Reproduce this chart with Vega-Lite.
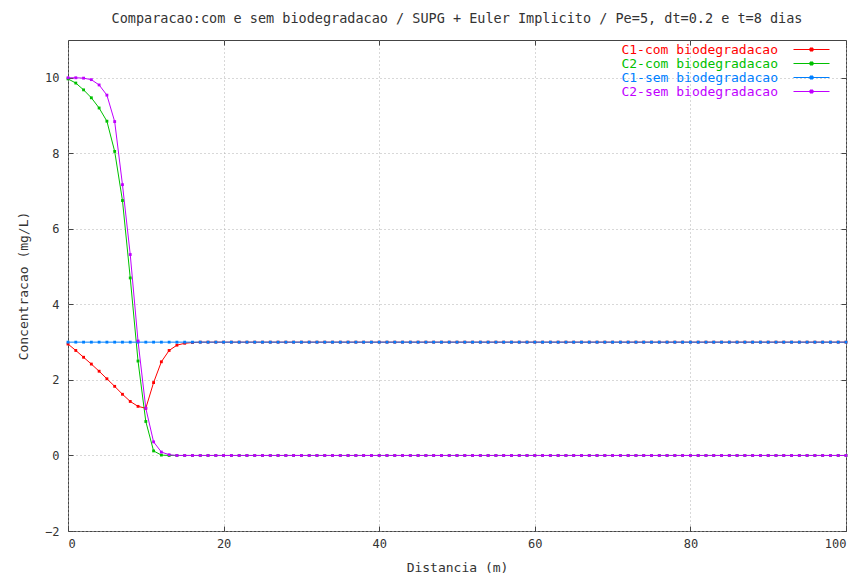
{
  "$schema": "https://vega.github.io/schema/vega-lite/v6.json",
  "width": 778,
  "height": 491,
  "autosize": "none",
  "padding": {"left": 68, "top": 40, "right": 19, "bottom": 49},
  "background": "white",
  "title": {
    "text": "Comparacao:com e sem biodegradacao / SUPG + Euler Implicito / Pe=5, dt=0.2 e t=8 dias",
    "font": "DejaVu Sans Mono",
    "fontSize": 13.5,
    "fontWeight": "normal",
    "color": "#333333",
    "anchor": "middle",
    "offset": 14
  },
  "config": {
    "view": {"stroke": "#444444", "strokeWidth": 1},
    "axis": {
      "labelFont": "DejaVu Sans Mono",
      "labelFontSize": 12,
      "labelColor": "#333333",
      "titleFont": "DejaVu Sans Mono",
      "titleFontSize": 13,
      "titleFontWeight": "normal",
      "titleColor": "#333333",
      "domain": false,
      "tickColor": "#444444",
      "tickSize": -5,
      "gridColor": "#b0b0b0",
      "gridDash": [1, 3],
      "gridOpacity": 1
    }
  },
  "data": {
    "values": [
      {"x":0,"C1-com biodegradacao":2.95,"C2-com biodegradacao":9.97,"C1-sem biodegradacao":3,"C2-sem biodegradacao":10},
      {"x":1,"C1-com biodegradacao":2.78,"C2-com biodegradacao":9.86,"C1-sem biodegradacao":3,"C2-sem biodegradacao":10},
      {"x":2,"C1-com biodegradacao":2.6,"C2-com biodegradacao":9.68,"C1-sem biodegradacao":3,"C2-sem biodegradacao":9.99},
      {"x":3,"C1-com biodegradacao":2.42,"C2-com biodegradacao":9.47,"C1-sem biodegradacao":3,"C2-sem biodegradacao":9.95},
      {"x":4,"C1-com biodegradacao":2.23,"C2-com biodegradacao":9.2,"C1-sem biodegradacao":3,"C2-sem biodegradacao":9.81},
      {"x":5,"C1-com biodegradacao":2.03,"C2-com biodegradacao":8.85,"C1-sem biodegradacao":3,"C2-sem biodegradacao":9.54},
      {"x":6,"C1-com biodegradacao":1.83,"C2-com biodegradacao":8.05,"C1-sem biodegradacao":3,"C2-sem biodegradacao":8.84},
      {"x":7,"C1-com biodegradacao":1.62,"C2-com biodegradacao":6.75,"C1-sem biodegradacao":3,"C2-sem biodegradacao":7.17},
      {"x":8,"C1-com biodegradacao":1.43,"C2-com biodegradacao":4.7,"C1-sem biodegradacao":3,"C2-sem biodegradacao":5.32},
      {"x":9,"C1-com biodegradacao":1.3,"C2-com biodegradacao":2.5,"C1-sem biodegradacao":3,"C2-sem biodegradacao":3.03},
      {"x":10,"C1-com biodegradacao":1.25,"C2-com biodegradacao":0.9,"C1-sem biodegradacao":3,"C2-sem biodegradacao":1.25},
      {"x":11,"C1-com biodegradacao":1.93,"C2-com biodegradacao":0.12,"C1-sem biodegradacao":3,"C2-sem biodegradacao":0.36},
      {"x":12,"C1-com biodegradacao":2.48,"C2-com biodegradacao":0.01,"C1-sem biodegradacao":3,"C2-sem biodegradacao":0.09},
      {"x":13,"C1-com biodegradacao":2.78,"C2-com biodegradacao":0,"C1-sem biodegradacao":3,"C2-sem biodegradacao":0.02},
      {"x":14,"C1-com biodegradacao":2.92,"C2-com biodegradacao":0,"C1-sem biodegradacao":3,"C2-sem biodegradacao":0},
      {"x":15,"C1-com biodegradacao":2.97,"C2-com biodegradacao":0,"C1-sem biodegradacao":3,"C2-sem biodegradacao":0},
      {"x":16,"C1-com biodegradacao":2.99,"C2-com biodegradacao":0,"C1-sem biodegradacao":3,"C2-sem biodegradacao":0},
      {"x":17,"C1-com biodegradacao":3,"C2-com biodegradacao":0,"C1-sem biodegradacao":3,"C2-sem biodegradacao":0},
      {"x":18,"C1-com biodegradacao":3,"C2-com biodegradacao":0,"C1-sem biodegradacao":3,"C2-sem biodegradacao":0},
      {"x":19,"C1-com biodegradacao":3,"C2-com biodegradacao":0,"C1-sem biodegradacao":3,"C2-sem biodegradacao":0},
      {"x":20,"C1-com biodegradacao":3,"C2-com biodegradacao":0,"C1-sem biodegradacao":3,"C2-sem biodegradacao":0},
      {"x":21,"C1-com biodegradacao":3,"C2-com biodegradacao":0,"C1-sem biodegradacao":3,"C2-sem biodegradacao":0},
      {"x":22,"C1-com biodegradacao":3,"C2-com biodegradacao":0,"C1-sem biodegradacao":3,"C2-sem biodegradacao":0},
      {"x":23,"C1-com biodegradacao":3,"C2-com biodegradacao":0,"C1-sem biodegradacao":3,"C2-sem biodegradacao":0},
      {"x":24,"C1-com biodegradacao":3,"C2-com biodegradacao":0,"C1-sem biodegradacao":3,"C2-sem biodegradacao":0},
      {"x":25,"C1-com biodegradacao":3,"C2-com biodegradacao":0,"C1-sem biodegradacao":3,"C2-sem biodegradacao":0},
      {"x":26,"C1-com biodegradacao":3,"C2-com biodegradacao":0,"C1-sem biodegradacao":3,"C2-sem biodegradacao":0},
      {"x":27,"C1-com biodegradacao":3,"C2-com biodegradacao":0,"C1-sem biodegradacao":3,"C2-sem biodegradacao":0},
      {"x":28,"C1-com biodegradacao":3,"C2-com biodegradacao":0,"C1-sem biodegradacao":3,"C2-sem biodegradacao":0},
      {"x":29,"C1-com biodegradacao":3,"C2-com biodegradacao":0,"C1-sem biodegradacao":3,"C2-sem biodegradacao":0},
      {"x":30,"C1-com biodegradacao":3,"C2-com biodegradacao":0,"C1-sem biodegradacao":3,"C2-sem biodegradacao":0},
      {"x":31,"C1-com biodegradacao":3,"C2-com biodegradacao":0,"C1-sem biodegradacao":3,"C2-sem biodegradacao":0},
      {"x":32,"C1-com biodegradacao":3,"C2-com biodegradacao":0,"C1-sem biodegradacao":3,"C2-sem biodegradacao":0},
      {"x":33,"C1-com biodegradacao":3,"C2-com biodegradacao":0,"C1-sem biodegradacao":3,"C2-sem biodegradacao":0},
      {"x":34,"C1-com biodegradacao":3,"C2-com biodegradacao":0,"C1-sem biodegradacao":3,"C2-sem biodegradacao":0},
      {"x":35,"C1-com biodegradacao":3,"C2-com biodegradacao":0,"C1-sem biodegradacao":3,"C2-sem biodegradacao":0},
      {"x":36,"C1-com biodegradacao":3,"C2-com biodegradacao":0,"C1-sem biodegradacao":3,"C2-sem biodegradacao":0},
      {"x":37,"C1-com biodegradacao":3,"C2-com biodegradacao":0,"C1-sem biodegradacao":3,"C2-sem biodegradacao":0},
      {"x":38,"C1-com biodegradacao":3,"C2-com biodegradacao":0,"C1-sem biodegradacao":3,"C2-sem biodegradacao":0},
      {"x":39,"C1-com biodegradacao":3,"C2-com biodegradacao":0,"C1-sem biodegradacao":3,"C2-sem biodegradacao":0},
      {"x":40,"C1-com biodegradacao":3,"C2-com biodegradacao":0,"C1-sem biodegradacao":3,"C2-sem biodegradacao":0},
      {"x":41,"C1-com biodegradacao":3,"C2-com biodegradacao":0,"C1-sem biodegradacao":3,"C2-sem biodegradacao":0},
      {"x":42,"C1-com biodegradacao":3,"C2-com biodegradacao":0,"C1-sem biodegradacao":3,"C2-sem biodegradacao":0},
      {"x":43,"C1-com biodegradacao":3,"C2-com biodegradacao":0,"C1-sem biodegradacao":3,"C2-sem biodegradacao":0},
      {"x":44,"C1-com biodegradacao":3,"C2-com biodegradacao":0,"C1-sem biodegradacao":3,"C2-sem biodegradacao":0},
      {"x":45,"C1-com biodegradacao":3,"C2-com biodegradacao":0,"C1-sem biodegradacao":3,"C2-sem biodegradacao":0},
      {"x":46,"C1-com biodegradacao":3,"C2-com biodegradacao":0,"C1-sem biodegradacao":3,"C2-sem biodegradacao":0},
      {"x":47,"C1-com biodegradacao":3,"C2-com biodegradacao":0,"C1-sem biodegradacao":3,"C2-sem biodegradacao":0},
      {"x":48,"C1-com biodegradacao":3,"C2-com biodegradacao":0,"C1-sem biodegradacao":3,"C2-sem biodegradacao":0},
      {"x":49,"C1-com biodegradacao":3,"C2-com biodegradacao":0,"C1-sem biodegradacao":3,"C2-sem biodegradacao":0},
      {"x":50,"C1-com biodegradacao":3,"C2-com biodegradacao":0,"C1-sem biodegradacao":3,"C2-sem biodegradacao":0},
      {"x":51,"C1-com biodegradacao":3,"C2-com biodegradacao":0,"C1-sem biodegradacao":3,"C2-sem biodegradacao":0},
      {"x":52,"C1-com biodegradacao":3,"C2-com biodegradacao":0,"C1-sem biodegradacao":3,"C2-sem biodegradacao":0},
      {"x":53,"C1-com biodegradacao":3,"C2-com biodegradacao":0,"C1-sem biodegradacao":3,"C2-sem biodegradacao":0},
      {"x":54,"C1-com biodegradacao":3,"C2-com biodegradacao":0,"C1-sem biodegradacao":3,"C2-sem biodegradacao":0},
      {"x":55,"C1-com biodegradacao":3,"C2-com biodegradacao":0,"C1-sem biodegradacao":3,"C2-sem biodegradacao":0},
      {"x":56,"C1-com biodegradacao":3,"C2-com biodegradacao":0,"C1-sem biodegradacao":3,"C2-sem biodegradacao":0},
      {"x":57,"C1-com biodegradacao":3,"C2-com biodegradacao":0,"C1-sem biodegradacao":3,"C2-sem biodegradacao":0},
      {"x":58,"C1-com biodegradacao":3,"C2-com biodegradacao":0,"C1-sem biodegradacao":3,"C2-sem biodegradacao":0},
      {"x":59,"C1-com biodegradacao":3,"C2-com biodegradacao":0,"C1-sem biodegradacao":3,"C2-sem biodegradacao":0},
      {"x":60,"C1-com biodegradacao":3,"C2-com biodegradacao":0,"C1-sem biodegradacao":3,"C2-sem biodegradacao":0},
      {"x":61,"C1-com biodegradacao":3,"C2-com biodegradacao":0,"C1-sem biodegradacao":3,"C2-sem biodegradacao":0},
      {"x":62,"C1-com biodegradacao":3,"C2-com biodegradacao":0,"C1-sem biodegradacao":3,"C2-sem biodegradacao":0},
      {"x":63,"C1-com biodegradacao":3,"C2-com biodegradacao":0,"C1-sem biodegradacao":3,"C2-sem biodegradacao":0},
      {"x":64,"C1-com biodegradacao":3,"C2-com biodegradacao":0,"C1-sem biodegradacao":3,"C2-sem biodegradacao":0},
      {"x":65,"C1-com biodegradacao":3,"C2-com biodegradacao":0,"C1-sem biodegradacao":3,"C2-sem biodegradacao":0},
      {"x":66,"C1-com biodegradacao":3,"C2-com biodegradacao":0,"C1-sem biodegradacao":3,"C2-sem biodegradacao":0},
      {"x":67,"C1-com biodegradacao":3,"C2-com biodegradacao":0,"C1-sem biodegradacao":3,"C2-sem biodegradacao":0},
      {"x":68,"C1-com biodegradacao":3,"C2-com biodegradacao":0,"C1-sem biodegradacao":3,"C2-sem biodegradacao":0},
      {"x":69,"C1-com biodegradacao":3,"C2-com biodegradacao":0,"C1-sem biodegradacao":3,"C2-sem biodegradacao":0},
      {"x":70,"C1-com biodegradacao":3,"C2-com biodegradacao":0,"C1-sem biodegradacao":3,"C2-sem biodegradacao":0},
      {"x":71,"C1-com biodegradacao":3,"C2-com biodegradacao":0,"C1-sem biodegradacao":3,"C2-sem biodegradacao":0},
      {"x":72,"C1-com biodegradacao":3,"C2-com biodegradacao":0,"C1-sem biodegradacao":3,"C2-sem biodegradacao":0},
      {"x":73,"C1-com biodegradacao":3,"C2-com biodegradacao":0,"C1-sem biodegradacao":3,"C2-sem biodegradacao":0},
      {"x":74,"C1-com biodegradacao":3,"C2-com biodegradacao":0,"C1-sem biodegradacao":3,"C2-sem biodegradacao":0},
      {"x":75,"C1-com biodegradacao":3,"C2-com biodegradacao":0,"C1-sem biodegradacao":3,"C2-sem biodegradacao":0},
      {"x":76,"C1-com biodegradacao":3,"C2-com biodegradacao":0,"C1-sem biodegradacao":3,"C2-sem biodegradacao":0},
      {"x":77,"C1-com biodegradacao":3,"C2-com biodegradacao":0,"C1-sem biodegradacao":3,"C2-sem biodegradacao":0},
      {"x":78,"C1-com biodegradacao":3,"C2-com biodegradacao":0,"C1-sem biodegradacao":3,"C2-sem biodegradacao":0},
      {"x":79,"C1-com biodegradacao":3,"C2-com biodegradacao":0,"C1-sem biodegradacao":3,"C2-sem biodegradacao":0},
      {"x":80,"C1-com biodegradacao":3,"C2-com biodegradacao":0,"C1-sem biodegradacao":3,"C2-sem biodegradacao":0},
      {"x":81,"C1-com biodegradacao":3,"C2-com biodegradacao":0,"C1-sem biodegradacao":3,"C2-sem biodegradacao":0},
      {"x":82,"C1-com biodegradacao":3,"C2-com biodegradacao":0,"C1-sem biodegradacao":3,"C2-sem biodegradacao":0},
      {"x":83,"C1-com biodegradacao":3,"C2-com biodegradacao":0,"C1-sem biodegradacao":3,"C2-sem biodegradacao":0},
      {"x":84,"C1-com biodegradacao":3,"C2-com biodegradacao":0,"C1-sem biodegradacao":3,"C2-sem biodegradacao":0},
      {"x":85,"C1-com biodegradacao":3,"C2-com biodegradacao":0,"C1-sem biodegradacao":3,"C2-sem biodegradacao":0},
      {"x":86,"C1-com biodegradacao":3,"C2-com biodegradacao":0,"C1-sem biodegradacao":3,"C2-sem biodegradacao":0},
      {"x":87,"C1-com biodegradacao":3,"C2-com biodegradacao":0,"C1-sem biodegradacao":3,"C2-sem biodegradacao":0},
      {"x":88,"C1-com biodegradacao":3,"C2-com biodegradacao":0,"C1-sem biodegradacao":3,"C2-sem biodegradacao":0},
      {"x":89,"C1-com biodegradacao":3,"C2-com biodegradacao":0,"C1-sem biodegradacao":3,"C2-sem biodegradacao":0},
      {"x":90,"C1-com biodegradacao":3,"C2-com biodegradacao":0,"C1-sem biodegradacao":3,"C2-sem biodegradacao":0},
      {"x":91,"C1-com biodegradacao":3,"C2-com biodegradacao":0,"C1-sem biodegradacao":3,"C2-sem biodegradacao":0},
      {"x":92,"C1-com biodegradacao":3,"C2-com biodegradacao":0,"C1-sem biodegradacao":3,"C2-sem biodegradacao":0},
      {"x":93,"C1-com biodegradacao":3,"C2-com biodegradacao":0,"C1-sem biodegradacao":3,"C2-sem biodegradacao":0},
      {"x":94,"C1-com biodegradacao":3,"C2-com biodegradacao":0,"C1-sem biodegradacao":3,"C2-sem biodegradacao":0},
      {"x":95,"C1-com biodegradacao":3,"C2-com biodegradacao":0,"C1-sem biodegradacao":3,"C2-sem biodegradacao":0},
      {"x":96,"C1-com biodegradacao":3,"C2-com biodegradacao":0,"C1-sem biodegradacao":3,"C2-sem biodegradacao":0},
      {"x":97,"C1-com biodegradacao":3,"C2-com biodegradacao":0,"C1-sem biodegradacao":3,"C2-sem biodegradacao":0},
      {"x":98,"C1-com biodegradacao":3,"C2-com biodegradacao":0,"C1-sem biodegradacao":3,"C2-sem biodegradacao":0},
      {"x":99,"C1-com biodegradacao":3,"C2-com biodegradacao":0,"C1-sem biodegradacao":3,"C2-sem biodegradacao":0},
      {"x":100,"C1-com biodegradacao":3,"C2-com biodegradacao":0,"C1-sem biodegradacao":3,"C2-sem biodegradacao":0}
    ]
  },
  "transform": [
    {"fold": ["C1-com biodegradacao", "C2-com biodegradacao", "C1-sem biodegradacao", "C2-sem biodegradacao"], "as": ["serie", "valor"]}
  ],
  "encoding": {
    "x": {"field": "x", "type": "quantitative", "scale": {"domain": [0, 100], "nice": false, "zero": false}},
    "y": {"field": "valor", "type": "quantitative", "scale": {"domain": [-2, 11], "nice": false, "zero": false}},
    "color": {
      "field": "serie",
      "type": "nominal",
      "sort": ["C1-com biodegradacao", "C2-com biodegradacao", "C1-sem biodegradacao", "C2-sem biodegradacao"],
      "scale": {
        "domain": ["C1-com biodegradacao", "C2-com biodegradacao", "C1-sem biodegradacao", "C2-sem biodegradacao"],
        "range": ["#ff0000", "#00c000", "#0080ff", "#c000ff"]
      },
      "legend": {
        "orient": "none",
        "legendX": 737,
        "legendY": 3,
        "title": null,
        "padding": 0,
        "symbolType": "M-3.6,0H3.6M-0.3,-0.3H0.3V0.3H-0.3Z",
        "symbolSize": 100,
        "symbolStrokeWidth": 1,
        "labelAlign": "right",
        "labelOffset": -40,
        "labelFont": "DejaVu Sans Mono",
        "labelFontSize": 11,
        "rowPadding": 0,
        "encode": {
          "labels": {"update": {"fill": {"scale": "color", "field": "value"}, "fontSize": {"value": 13}}}
        }
      }
    }
  },
  "layer": [
    {
      "mark": {"type": "line", "strokeWidth": 1},
      "encoding": {
        "x": {"field": "x", "type": "quantitative", "axis": {"values": [0, 20, 40, 60, 80, 100], "title": "Distancia (m)", "labelPadding": 12, "titlePadding": 12, "grid": true}},
        "y": {"field": "valor", "type": "quantitative", "axis": {"values": [-2, 0, 2, 4, 6, 8, 10], "title": "Concentracao (mg/L)", "labelPadding": 14, "titlePadding": 14, "grid": true}}
      }
    },
    {
      "mark": {"type": "point", "shape": "square", "size": 8, "filled": true, "opacity": 1},
      "encoding": {
        "x": {"field": "x", "type": "quantitative", "axis": {"orient": "top", "values": [0, 20, 40, 60, 80, 100], "labels": false, "title": null, "grid": false}},
        "y": {"field": "valor", "type": "quantitative", "axis": {"orient": "right", "values": [-2, 0, 2, 4, 6, 8, 10], "labels": false, "title": null, "grid": false}}
      }
    }
  ],
  "resolve": {"axis": {"x": "independent", "y": "independent"}}
}
